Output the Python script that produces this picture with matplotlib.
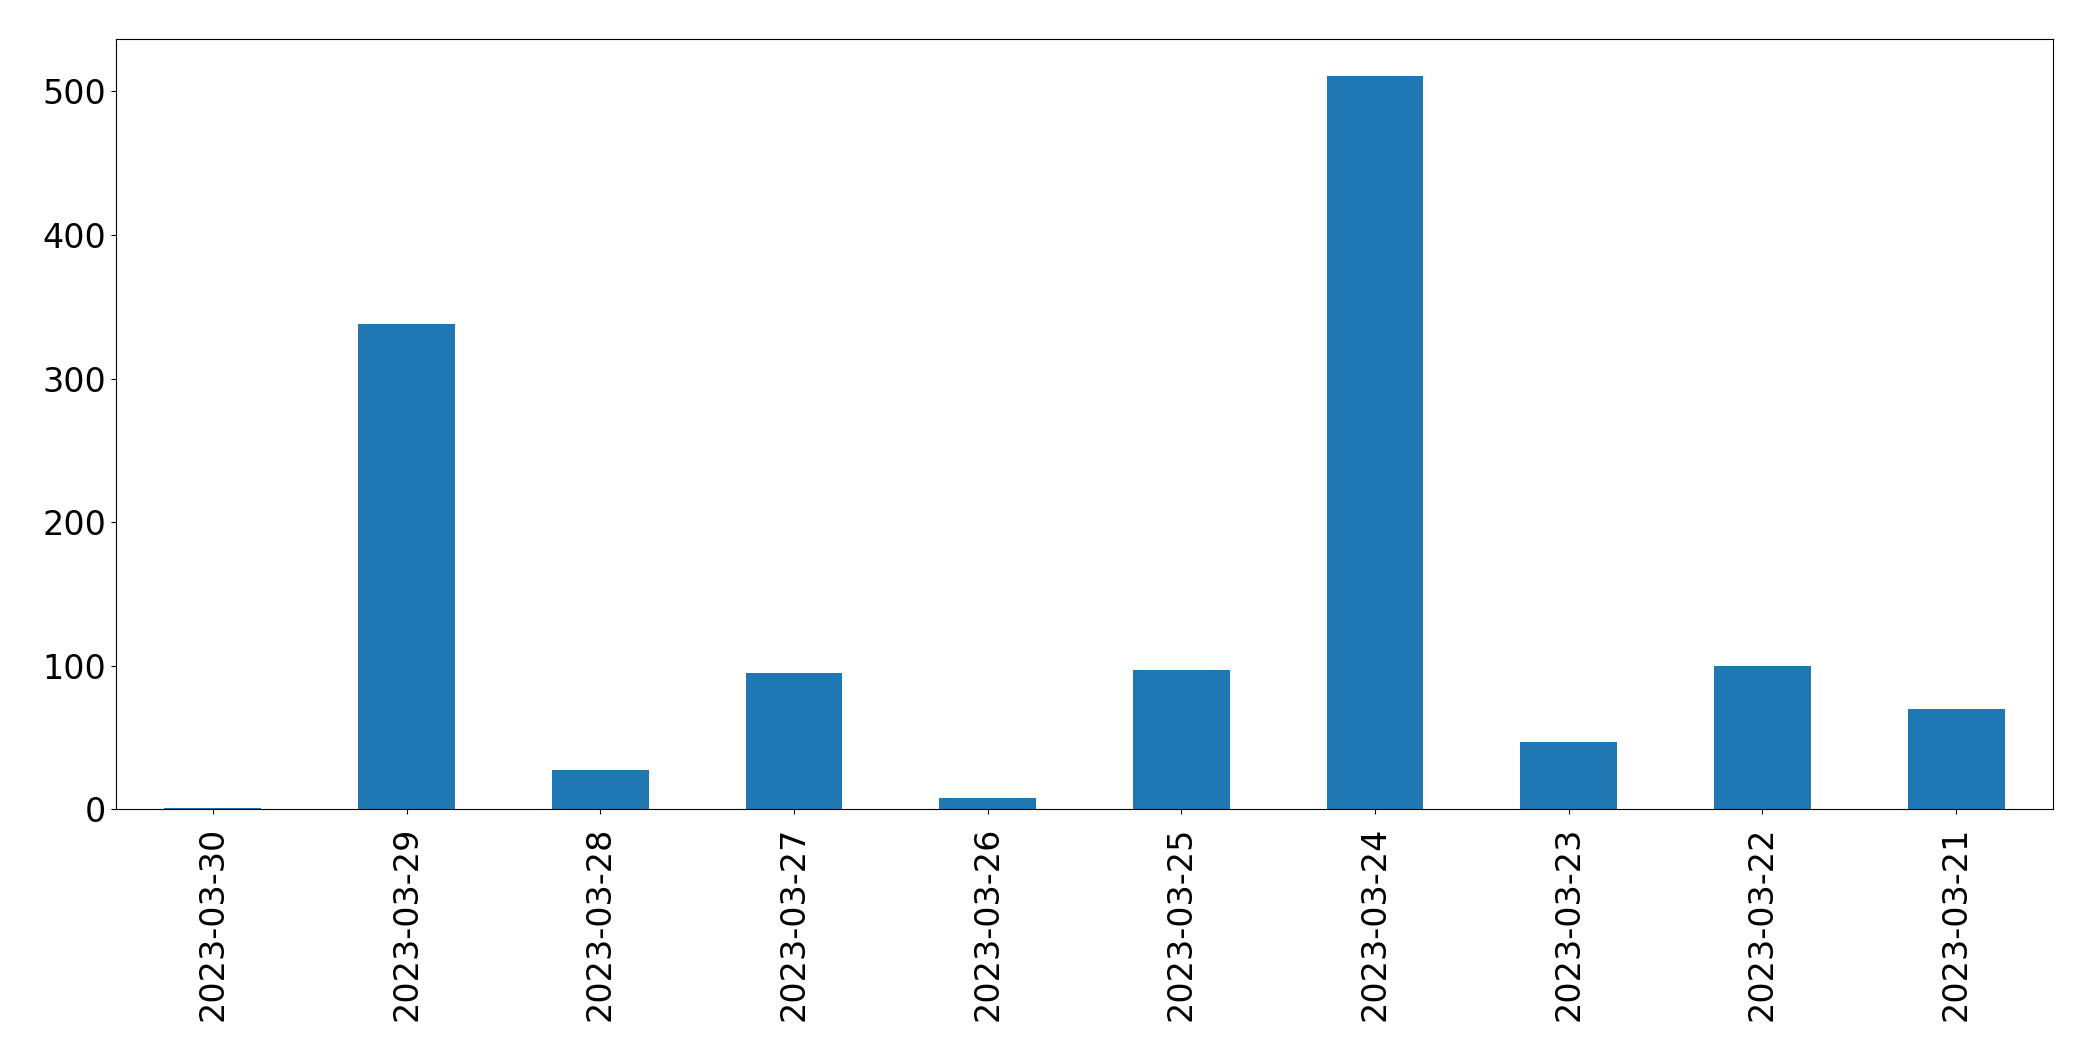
import matplotlib
matplotlib.use("Agg")
import matplotlib.pyplot as plt

# daily counts, newest first
dates = ["2023-03-30", "2023-03-29", "2023-03-28", "2023-03-27", "2023-03-26",
         "2023-03-25", "2023-03-24", "2023-03-23", "2023-03-22", "2023-03-21"]
counts = [1, 338, 27, 95, 8, 97, 511, 47, 100, 70]

fig = plt.figure(figsize=(20.93, 10.61), dpi=100)
ax = fig.add_axes([0.0554, 0.2375, 0.9255, 0.7257])

pos = list(range(len(dates)))
ax.bar(pos, counts, width=0.5, color="#1f77b4")
ax.set_xlim(-0.5, len(dates) - 0.5)
ax.set_xticks(pos)
ax.set_xticklabels(dates, rotation=90)
ax.tick_params(axis="both", labelsize=24)
ax.tick_params(axis="x", pad=9)

fig.savefig("out.png", dpi=100)
